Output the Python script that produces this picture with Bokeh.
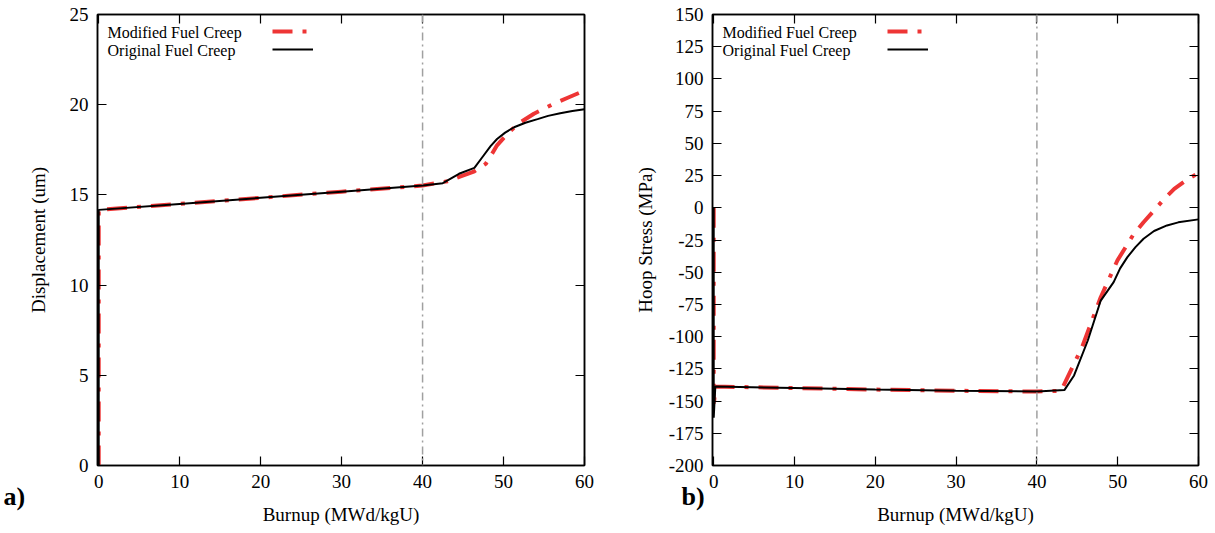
from bokeh.plotting import figure
from bokeh.models import Range1d, FixedTicker, LinearAxis, Legend, LegendItem, Label, Span
from bokeh.layouts import row
from bokeh.embed import file_html
from bokeh.resources import INLINE

FONT = "Liberation Serif"
RED = "#ee3535"

# ---------------- data ----------------
x_ticks = [0, 10, 20, 30, 40, 50, 60]
disp_ticks = [0, 5, 10, 15, 20, 25]
hoop_ticks = [-200, -175, -150, -125, -100, -75, -50, -25, 0, 25, 50, 75, 100, 125, 150]
ref_burnup = 40

# (a) displacement (um)
disp_mod_x = [0, 0, 10, 20, 30, 40, 43.1, 46.4, 47.8, 48.6, 49.2, 50.0, 50.9, 52.0, 53.75, 56.2, 58.0, 60]
disp_mod_y = [0, 14.17, 14.5, 14.84, 15.18, 15.52, 15.76, 16.31, 16.72, 17.3, 17.75, 18.15, 18.57, 19.0, 19.5, 20.05, 20.4, 20.78]
disp_org_x = [0, 0, 10, 20, 30, 40, 42.5, 44.5, 46.4, 47.4, 48.4, 49.2, 50.2, 51.3, 52.7, 54.2, 55.5, 57.0, 58.5, 60]
disp_org_y = [0, 14.17, 14.5, 14.84, 15.18, 15.52, 15.65, 16.17, 16.5, 17.1, 17.7, 18.1, 18.45, 18.75, 19.0, 19.2, 19.38, 19.53, 19.65, 19.75]

# (b) hoop stress (MPa)
hoop_mod_x = [0, 0, 0.2, 10, 20, 30, 40, 43.0, 44.4, 45.6, 47.9, 49.96, 52.0, 53.2, 54.5, 55.7, 57.0, 58.5, 60]
hoop_mod_y = [0, -155, -138.7, -139.9, -141.1, -142.0, -142.6, -142.0, -123.7, -108, -69.4, -40.9, -20.2, -11.2, -2.1, 6.5, 14.7, 21.5, 27]
hoop_org_x = [0, 0, 0.2, 10, 20, 30, 40, 43.4, 44.6, 46.3, 47.9, 49.5, 50.3, 51.2, 52.2, 53.2, 54.5, 56.1, 57.5, 60]
hoop_org_y = [0, -163, -138.7, -139.9, -141.1, -142.0, -142.6, -141.5, -130.1, -103, -72, -57.7, -47, -38.3, -30.5, -24, -18, -13.7, -11.3, -9]

labels = ["Modified Fuel Creep", "Original Fuel Creep"]


def style_axis(ax, show_labels=True):
    ax.axis_line_color = "black"
    ax.axis_line_width = 1.5
    ax.major_tick_line_color = "black"
    ax.major_tick_line_width = 1.2
    ax.major_tick_in = 9
    ax.major_tick_out = 0
    ax.minor_tick_line_color = None
    ax.major_label_text_font = FONT
    ax.major_label_text_color = "black"
    ax.major_label_text_font_size = "19px"
    ax.major_label_standoff = 9
    ax.axis_label_text_font = FONT
    ax.axis_label_text_font_style = "normal"
    ax.axis_label_text_font_size = "19px"
    ax.axis_label_text_color = "black"
    if not show_labels:
        ax.major_label_text_font_size = "1px"
        ax.major_label_text_color = None
        ax.major_label_standoff = 0


def make_panel(width, left, right, yr, yticks, ylabel, ystand, mx, my, ox, oy, tag, tag_x):
    p = figure(width=width, height=533, x_range=Range1d(-0.15, 60), y_range=Range1d(*yr),
               output_backend="svg", toolbar_location=None,
               min_border_left=left, min_border_right=right, min_border_top=14, min_border_bottom=68)
    p.grid.visible = False
    p.outline_line_color = "black"
    p.outline_line_width = 1.5
    p.background_fill_color = "white"
    p.border_fill_color = "white"

    p.xaxis.ticker = FixedTicker(ticks=x_ticks)
    p.yaxis.ticker = FixedTicker(ticks=yticks)
    p.yaxis.major_label_overrides = {t: str(t) for t in yticks}
    p.xaxis.major_label_overrides = {t: str(t) for t in x_ticks}
    p.xaxis.axis_label = "Burnup (MWd/kgU)"
    p.yaxis.axis_label = ylabel
    for ax in p.xaxis + p.yaxis:
        style_axis(ax)
    p.xaxis.axis_label_standoff = 13
    p.yaxis.axis_label_standoff = ystand

    top = LinearAxis(ticker=FixedTicker(ticks=x_ticks))
    rgt = LinearAxis(ticker=FixedTicker(ticks=yticks))
    style_axis(top, False)
    style_axis(rgt, False)
    p.add_layout(top, "above")
    p.add_layout(rgt, "right")

    p.add_layout(Span(location=ref_burnup, dimension="height", line_color="#a0a0a0",
                      line_width=1.5, line_dash="8 4 2 4"))

    r_mod = p.line(mx, my, line_color=RED, line_width=4, line_dash="20 10 4 10")
    r_org = p.line(ox, oy, line_color="black", line_width=2)

    legend = Legend(items=[LegendItem(label=" ", renderers=[r_mod]),
                           LegendItem(label=" ", renderers=[r_org])],
                    location=(175, 407), glyph_width=41, glyph_height=18, spacing=0,
                    padding=0, margin=0, label_standoff=0, label_text_font_size="1px",
                    label_width=0, label_height=18, border_line_color=None,
                    background_fill_alpha=0)
    p.add_layout(legend)

    for i, t in enumerate(labels):
        p.add_layout(Label(x=10, y=433 - 18 * i, x_units="screen", y_units="screen", text=t,
                           text_font=FONT, text_font_size="16px", text_baseline="middle",
                           text_color="black"))

    # panel tag placed in the left side panel so it is not clipped to the frame
    p.add_layout(Label(x=tag_x, y=-31, x_units="screen", y_units="screen", text=tag,
                       text_font=FONT, text_font_size="26px", text_font_style="bold",
                       text_baseline="middle", text_color="black"), "left")
    return p


p1 = make_panel(605, 97, 21, (0, 25), disp_ticks, "Displacement (um)", 18,
                disp_mod_x, disp_mod_y, disp_org_x, disp_org_y, "a)", 1)
p2 = make_panel(610, 107, 17, (-200, 150), hoop_ticks, "Hoop Stress (MPa)", 10,
                hoop_mod_x, hoop_mod_y, hoop_org_x, hoop_org_y, "b)", 73)

layout = row(p1, p2)
open("out.html", "w").write(file_html(layout, INLINE))
